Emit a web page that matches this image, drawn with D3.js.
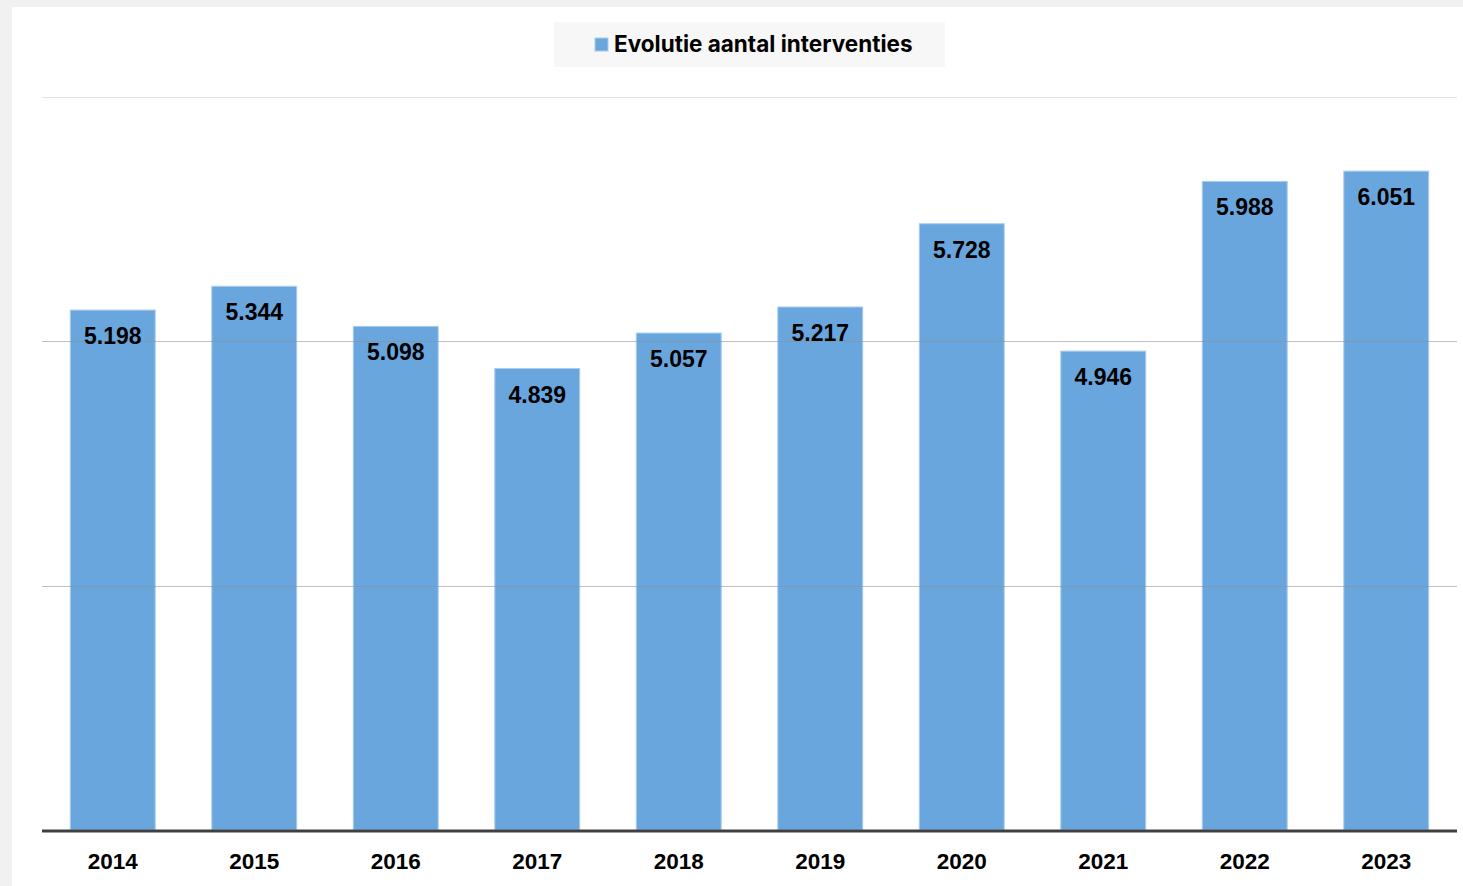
<!DOCTYPE html>
<html>
<head>
<meta charset="utf-8">
<script src="https://cdn.jsdelivr.net/npm/d3@7"></script>
<style>
  body { margin: 0; background: #f1f1f1; }
  svg { display: block; }
</style>
</head>
<body>
<div id="chart"></div>
<script>
// Data
const years = ["2014", "2015", "2016", "2017", "2018", "2019", "2020", "2021", "2022", "2023"];
const interventions = [5198, 5344, 5098, 4839, 5057, 5217, 5728, 4946, 5988, 6051];
const gridValues = [2000, 3500, 5000, 6500];
const seriesName = "Evolutie aantal interventies";

const W = 1463, H = 886;
const plot = {left: 42, right: 1457, top: 97, bottom: 830};

const svg = d3.select("#chart")
    .append("svg")
    .attr("width", W)
    .attr("height", H);

// white panel
svg.append("rect")
    .attr("x", 12).attr("y", 7)
    .attr("width", W - 12).attr("height", H - 7)
    .attr("fill", "#ffffff");

const x = d3.scaleBand()
    .domain(years)
    .range([plot.left, plot.right])
    .paddingInner(0.4)
    .paddingOuter(0.2);

const y = d3.scaleLinear()
    .domain([2000, 6500])
    .range([plot.bottom, plot.top]);

const nl = d3.formatLocale({decimal: ",", thousands: ".", grouping: [3], currency: ["€", ""]});
const fmt = nl.format(",d");

// Bars
svg.selectAll(".bar")
    .data(interventions)
    .join("rect")
    .attr("class", "bar")
    .attr("x", (d, i) => x(years[i]))
    .attr("y", d => y(d) + 1)
    .attr("width", x.bandwidth())
    .attr("height", d => y(2000) - y(d) - 1)
    .attr("fill", "#6aa6de")
    .attr("stroke", "#a9cbee")
    .attr("stroke-width", 1);

// Gridlines (drawn over the bars, semi transparent)
svg.selectAll(".grid")
    .data(gridValues.slice(1))
    .join("line")
    .attr("class", "grid")
    .attr("x1", plot.left)
    .attr("x2", plot.right)
    .attr("y1", d => Math.round(y(d)) + 0.5)
    .attr("y2", d => Math.round(y(d)) + 0.5)
    .attr("stroke", d => d === 6500 ? "#e2e2e2" : "#8c8c8c")
    .attr("stroke-opacity", d => d === 6500 ? 1 : 0.55)
    .attr("stroke-width", 1.2);

// Baseline
svg.append("line")
    .attr("x1", plot.left)
    .attr("x2", plot.right)
    .attr("y1", y(2000) + 1)
    .attr("y2", y(2000) + 1)
    .attr("stroke", "#404040")
    .attr("stroke-width", 3);

// Value labels
svg.selectAll(".label")
    .data(interventions)
    .join("text")
    .attr("class", "label")
    .attr("x", (d, i) => x(years[i]) + x.bandwidth() / 2)
    .attr("y", d => y(d) + 35)
    .attr("text-anchor", "middle")
    .style("font-family", "'Liberation Sans', Arial, sans-serif")
    .style("font-weight", "bold")
    .style("font-size", "23px")
    .attr("fill", "#000")
    .text(d => fmt(d));

// X axis labels
svg.selectAll(".year")
    .data(years)
    .join("text")
    .attr("class", "year")
    .attr("x", d => x(d) + x.bandwidth() / 2)
    .attr("y", 869)
    .attr("text-anchor", "middle")
    .style("font-family", "'Liberation Sans', Arial, sans-serif")
    .style("font-weight", "bold")
    .style("font-size", "22.5px")
    .attr("fill", "#000")
    .text(d => d);

// Legend
const legend = svg.append("g");
legend.append("rect")
    .attr("x", 554).attr("y", 22)
    .attr("width", 391).attr("height", 45)
    .attr("fill", "#f7f7f7");
legend.append("rect")
    .attr("x", 595).attr("y", 38)
    .attr("width", 13).attr("height", 13)
    .attr("fill", "#6aa6de")
    .attr("stroke", "#a9cbee");
legend.append("text")
    .attr("x", 614)
    .attr("y", 52)
    .style("font-family", "Inter, 'Open Sans', sans-serif")
    .style("font-weight", "bold")
    .style("font-size", "22.5px")
    .attr("fill", "#000")
    .text(seriesName);
</script>
</body>
</html>
